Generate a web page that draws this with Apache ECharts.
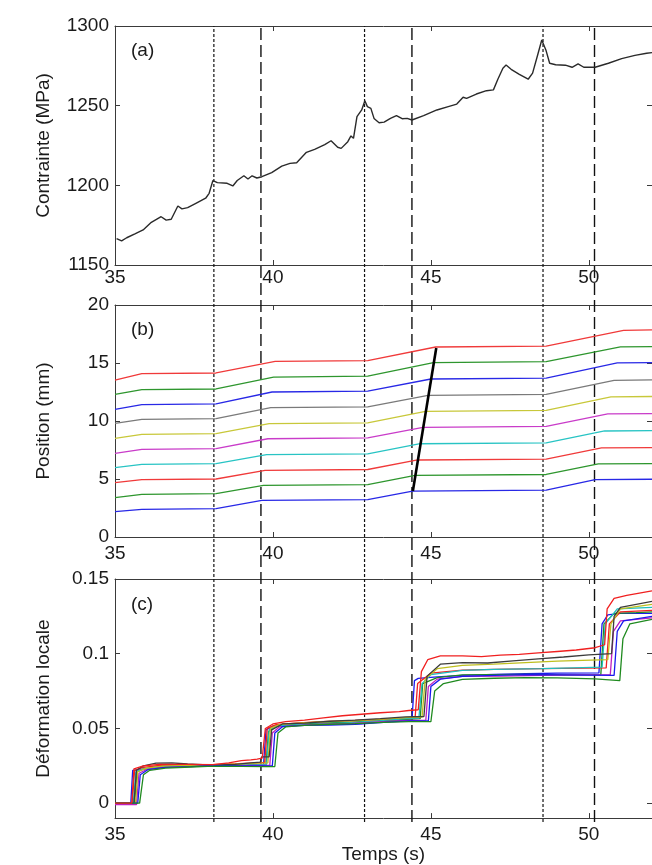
<!DOCTYPE html>
<html><head><meta charset="utf-8">
<script src="https://cdn.jsdelivr.net/npm/echarts@6/dist/echarts.min.js"></script>
<style>html,body{margin:0;padding:0;background:#fff}#c{width:652px;height:865px}</style>
</head><body><div id="c"></div>
<script>
// ---------- data ----------
const xMin = 35, xMax = 52, xInterval = 5;
const panelLabels = ['(a)', '(b)', '(c)'];
const yNames = ['Contrainte (MPa)', 'Position (mm)', 'Déformation locale'];
const xName = 'Temps (s)';
const dottedTimes = [38.13, 42.9, 48.55];
const dashedTimes = [39.62, 44.4, 50.18];

// (a) stress
const stress = [[35.05,1166.5],[35.21,1165.1],[35.37,1167.1],[35.63,1169.5],[35.89,1172],[36.15,1176.8],[36.46,1180.3],[36.62,1178.2],[36.78,1178.7],[36.99,1187],[37.12,1185.2],[37.3,1186],[37.56,1188.7],[37.87,1191.9],[37.98,1195],[38.1,1203],[38.24,1201.7],[38.55,1201.3],[38.73,1199.6],[38.87,1203],[39.08,1206],[39.21,1204],[39.34,1206],[39.49,1204.6],[39.65,1205.4],[39.96,1208],[40.28,1212],[40.54,1213.8],[40.75,1214.2],[41.06,1220.7],[41.32,1222.6],[41.64,1225.5],[41.84,1228],[42.05,1223.9],[42.16,1223.2],[42.37,1227.4],[42.47,1231],[42.55,1229.5],[42.66,1243.1],[42.81,1247.3],[42.91,1253.1],[42.99,1249.4],[43.1,1248.3],[43.2,1242],[43.36,1239.3],[43.52,1239.7],[43.72,1242],[43.91,1243.7],[44.09,1241.8],[44.25,1242],[44.4,1241],[44.77,1243.7],[45.19,1247.3],[45.55,1249.4],[45.82,1251],[46.02,1255.3],[46.13,1254.6],[46.44,1257.3],[46.76,1259.4],[46.98,1259.9],[47.12,1266.6],[47.28,1273.5],[47.38,1275.5],[47.54,1272.8],[47.8,1269.7],[48.08,1266.6],[48.22,1270.4],[48.38,1281.8],[48.51,1291.2],[48.64,1285],[48.76,1276.6],[48.95,1275.7],[49.26,1275.4],[49.47,1274.1],[49.66,1276.2],[49.84,1274.1],[50.2,1274.1],[50.62,1276.6],[51.04,1279.5],[51.46,1281.6],[51.83,1282.9],[52,1283.3]];

// (b) positions, bottom to top
const posStart = [2.18, 3.39, 4.68, 5.98, 7.2, 8.5, 9.8, 11.0, 12.3, 13.53];
const posPlateau1 = [2.41, 3.71, 4.97, 6.29, 7.59, 8.88, 10.17, 11.44, 12.73, 14.11];
const posPlateau2 = [3.19, 4.48, 5.78, 7.13, 8.5, 9.8, 11.18, 12.53, 13.82, 15.17];
const posPlateau3 = [3.99, 5.34, 6.67, 8.07, 9.48, 10.86, 12.24, 13.65, 15.06, 16.41];
const posPlateau4 = [4.97, 6.32, 7.7, 9.16, 10.63, 12.1, 13.53, 15.03, 16.41, 17.84];
const ramp1End = 35.85;
const ramp2Start = 38.2, ramp3Start = 43.0, ramp4Start = 48.65;
const ramp2End = [39.65, 39.7, 39.75, 39.8, 39.84, 39.88, 39.93, 39.97, 40.02, 40.07];
const ramp3End = [44.42, 44.5, 44.58, 44.66, 44.75, 44.83, 44.91, 45.0, 45.08, 45.15];
const ramp4End = [50.2, 50.3, 50.4, 50.5, 50.6, 50.7, 50.8, 50.9, 51.0, 51.1];
const bandFront = [[44.43, 3.97], [45.17, 16.3]];

// (c) local strain
const strain = [
 [[35,0],[35.5,0],[35.56,0.022],[35.8,0.0225],[36.2,0.0238],[36.8,0.0244],[37.5,0.0248],[38.1,0.0254],[38.8,0.025],[39.3,0.0252],[39.7,0.0252],[39.78,0.049],[40.0,0.0515],[40.5,0.0522],[41.2,0.0525],[42.0,0.053],[42.8,0.0532],[43.5,0.0545],[44.3,0.0555],[44.4,0.0555],[44.48,0.082],[44.6,0.0835],[45.2,0.0845],[46,0.0855],[47,0.0862],[48,0.0866],[49,0.087],[50.32,0.0872],[50.42,0.12],[50.6,0.126],[51,0.127],[52,0.127]],
 [[35,0],[35.62,0],[35.7,0.021],[35.9,0.0228],[36.3,0.0242],[37,0.0246],[37.8,0.025],[38.5,0.0254],[39.2,0.0256],[39.78,0.0258],[39.86,0.048],[40.1,0.0515],[40.6,0.0525],[41.5,0.0535],[42.3,0.054],[43.2,0.055],[44.0,0.0558],[44.66,0.0565],[44.74,0.08],[45.2,0.084],[46,0.0858],[47,0.086],[48,0.0862],[49.2,0.0858],[50.38,0.086],[50.48,0.12],[50.8,0.127],[51.5,0.1275],[52,0.128]],
 [[35,0],[35.55,0],[35.62,0.022],[35.9,0.024],[36.4,0.0252],[37.2,0.0255],[38.1,0.0257],[38.9,0.0264],[39.5,0.027],[39.74,0.0272],[39.82,0.05],[40.1,0.0525],[40.7,0.0535],[41.5,0.0545],[42.3,0.055],[43.2,0.0558],[44.0,0.0565],[44.5,0.057],[44.58,0.08],[45,0.087],[46,0.089],[47,0.0895],[48.5,0.09],[50.55,0.0905],[50.65,0.12],[51,0.128],[52,0.129]],
 [[35,0],[35.58,0],[35.66,0.021],[35.9,0.023],[36.4,0.0245],[37.2,0.025],[38.1,0.0254],[38.9,0.0256],[39.5,0.0258],[39.8,0.026],[39.88,0.049],[40.2,0.0518],[40.8,0.0525],[41.6,0.053],[42.5,0.0538],[43.4,0.0552],[44.2,0.0565],[44.62,0.057],[44.72,0.08],[45,0.086],[46,0.0888],[47,0.0895],[48.5,0.09],[49.5,0.0905],[50.42,0.091],[50.52,0.12],[50.9,0.13],[52,0.131]],
 [[35,-0.001],[35.68,-0.001],[35.76,0.02],[36,0.0225],[36.5,0.024],[37.3,0.0246],[38.1,0.0252],[39,0.0252],[39.9,0.0254],[39.98,0.047],[40.2,0.051],[40.8,0.052],[41.6,0.0528],[42.5,0.0533],[43.5,0.0545],[44.3,0.0553],[44.84,0.0556],[44.92,0.078],[45.2,0.083],[46,0.0848],[47.2,0.085],[48.5,0.0855],[49.6,0.0858],[50.68,0.086],[50.78,0.115],[51,0.122],[52,0.124]],
 [[35,0],[35.65,0],[35.72,0.021],[36,0.0235],[36.5,0.0248],[37.3,0.0252],[38.1,0.0256],[38.9,0.0262],[39.5,0.0268],[39.84,0.027],[39.92,0.05],[40.2,0.0525],[40.8,0.0535],[41.6,0.0545],[42.5,0.055],[43.4,0.056],[44.2,0.0572],[44.72,0.0576],[44.82,0.083],[45.2,0.09],[46,0.0922],[47,0.093],[48,0.094],[49,0.095],[50.6,0.096],[50.7,0.12],[51,0.13],[52,0.133]],
 [[35,0],[35.6,0],[35.68,0.022],[35.9,0.025],[36.3,0.0268],[36.8,0.027],[37.3,0.0262],[38.1,0.0255],[38.8,0.026],[39.3,0.027],[39.6,0.0275],[39.64,0.031],[39.88,0.031],[39.96,0.049],[40.3,0.053],[41,0.0535],[41.8,0.0548],[42.6,0.0555],[43.4,0.0565],[44.2,0.0578],[44.78,0.058],[44.88,0.085],[45.3,0.093],[46,0.094],[46.8,0.0938],[47.6,0.0952],[48.4,0.0965],[49.2,0.0978],[50.0,0.0992],[50.72,0.1],[50.8,0.125],[51,0.131],[52,0.135]],
 [[35,0],[35.72,0],[35.8,0.019],[36.05,0.0225],[36.6,0.024],[37.4,0.0245],[38.1,0.0252],[39,0.025],[39.98,0.025],[40.06,0.047],[40.3,0.0512],[41,0.052],[41.8,0.0522],[42.6,0.0528],[43.5,0.054],[44.3,0.055],[44.92,0.055],[45.0,0.078],[45.3,0.083],[46,0.0848],[47,0.0855],[48,0.086],[49,0.0858],[50.8,0.0855],[50.9,0.115],[51.1,0.122],[52,0.125]],
 [[35,0],[35.78,0],[35.9,0.019],[36.1,0.022],[36.6,0.0235],[37.4,0.0242],[38.1,0.0248],[39,0.0246],[39.8,0.0245],[40.06,0.0245],[40.16,0.047],[40.4,0.051],[41,0.052],[41.8,0.0528],[42.6,0.0532],[43.5,0.054],[44.3,0.0545],[45,0.0545],[45.12,0.075],[45.4,0.08],[46,0.0828],[47,0.0836],[48,0.084],[49,0.0838],[50.2,0.0832],[50.98,0.082],[51.08,0.11],[51.3,0.12],[52,0.123]],
 [[35,0],[35.53,0],[35.6,0.023],[35.9,0.025],[36.4,0.026],[37.2,0.026],[38.1,0.0258],[38.6,0.027],[39.0,0.0285],[39.3,0.029],[39.5,0.0295],[39.66,0.0302],[39.76,0.05],[40.0,0.053],[40.4,0.0545],[41,0.0555],[41.6,0.057],[42.2,0.0585],[42.8,0.0595],[43.4,0.0605],[44,0.0612],[44.3,0.062],[44.6,0.0625],[44.7,0.088],[44.9,0.096],[45.3,0.0985],[46,0.0985],[46.6,0.098],[47.2,0.099],[47.8,0.0995],[48.4,0.1005],[49,0.1015],[49.6,0.1025],[50.2,0.104],[50.5,0.106],[50.58,0.13],[50.8,0.137],[51.2,0.139],[51.6,0.1405],[52,0.142]]
];
const strainTicks = [0, 0.05, 0.1, 0.15];

// ---------- styles ----------
const colorsB = ['#2828e6', '#2e962e', '#f03a3a', '#28c4c4', '#c93cc9', '#c8c83a', '#7a7a7a', '#2828e6', '#2e962e', '#f03a3a'];
const colorsC = ['#1a1aee', '#1f8a1f', '#f02020', '#1fbfbf', '#c020c0', '#bfbf1f', '#3c3c3c', '#1a1aee', '#1f8a1f', '#f02020'];
const FONT = 'Liberation Sans, Arial, Helvetica, sans-serif';
const AX = '#3a3a3a';
const TXT = '#1a1a1a';
const plain = v => String(v);
const grids = [
  {left: 115, right: -5, top: 26, height: 239},
  {left: 115, right: -5, top: 305, height: 232},
  {left: 115, right: -5, top: 579, height: 243},
  {left: 115, right: -5, top: 26, bottom: 43}
];

function xAxes(gi, labelMargin, withName) {
  const common = {gridIndex: gi, type: 'value', min: xMin, max: xMax, interval: xInterval,
    axisLine: {show: true, onZero: false, lineStyle: {color: AX, width: 1}},
    axisTick: {show: true, inside: true, length: 5, lineStyle: {color: AX}},
    splitLine: {show: false}};
  return [
    Object.assign({}, common, {position: 'bottom',
      axisLabel: {show: true, margin: labelMargin, fontSize: 19, color: TXT, fontFamily: FONT, showMaxLabel: false, formatter: plain},
      name: withName ? xName : '', nameLocation: 'middle', nameGap: 26,
      nameTextStyle: {fontSize: 19, color: TXT, fontFamily: FONT}}),
    Object.assign({}, common, {position: 'top', axisLabel: {show: false}})
  ];
}
function yAxes(gi, cfg) {
  const common = Object.assign({gridIndex: gi, type: 'value',
    axisLine: {show: true, lineStyle: {color: AX, width: 1}},
    splitLine: {show: false}}, cfg.range);
  const tick = {show: true, inside: true, length: 5, lineStyle: {color: AX}};
  if (cfg.custom) tick.customValues = cfg.custom;
  const lab = {show: true, margin: 6, fontSize: 19, color: TXT, fontFamily: FONT, formatter: plain};
  if (cfg.custom) lab.customValues = cfg.custom;
  return [
    Object.assign({}, common, {position: 'left', axisTick: tick, axisLabel: lab,
      name: cfg.name, nameLocation: 'middle', nameGap: 62,
      nameTextStyle: {fontSize: 19, color: TXT, fontFamily: FONT}}),
    Object.assign({}, common, {position: 'right', axisTick: tick, axisLabel: {show: false}})
  ];
}

const xAxis = [].concat(xAxes(0, 3, false), xAxes(1, 7, false), xAxes(2, 7, true),
  [{gridIndex: 3, type: 'value', min: xMin, max: xMax, show: false}]);
const yAxis = [].concat(
  yAxes(0, {range: {min: 1150, max: 1300, interval: 50}, name: yNames[0]}),
  yAxes(1, {range: {min: 0, max: 20, interval: 5}, name: yNames[1]}),
  yAxes(2, {range: {min: -0.01, max: 0.15}, custom: strainTicks, name: yNames[2]}),
  [{gridIndex: 3, type: 'value', min: 0, max: 1, show: false}]);

const series = [];
// vertical event lines across all panels
dottedTimes.forEach(t => series.push({type: 'line', xAxisIndex: 6, yAxisIndex: 6, data: [[t, 0], [t, 1]],
  symbol: 'none', silent: true, z: 1, lineStyle: {color: '#111', width: 1.2, type: [3, 2]}}));
dashedTimes.forEach(t => series.push({type: 'line', xAxisIndex: 6, yAxisIndex: 6, data: [[t, 0], [t, 1]],
  symbol: 'none', silent: true, z: 1, lineStyle: {color: '#111', width: 1.4, type: [12, 5]}}));
// (a)
series.push({type: 'line', xAxisIndex: 0, yAxisIndex: 0, data: stress, symbol: 'none', z: 3,
  lineStyle: {color: '#2a2a2a', width: 1.4}});
// (b)
for (let i = 0; i < posStart.length; i++) {
  const d = [[xMin, posStart[i]], [ramp1End, posPlateau1[i] - 0.03], [ramp2Start, posPlateau1[i] + 0.03],
    [ramp2End[i], posPlateau2[i] - 0.03], [ramp3Start, posPlateau2[i] + 0.04],
    [ramp3End[i], posPlateau3[i] - 0.03], [ramp4Start, posPlateau3[i] + 0.05],
    [ramp4End[i], posPlateau4[i] - 0.02], [xMax, posPlateau4[i] + 0.01]];
  series.push({type: 'line', xAxisIndex: 2, yAxisIndex: 2, data: d, symbol: 'none', z: 3,
    lineStyle: {color: colorsB[i], width: 1.3}});
}
series.push({type: 'line', xAxisIndex: 2, yAxisIndex: 2, data: bandFront, symbol: 'none', z: 4,
  lineStyle: {color: '#000', width: 2.6}});
// (c)
strain.forEach((d, i) => series.push({type: 'line', xAxisIndex: 4, yAxisIndex: 4, data: d, symbol: 'none', z: 3,
  lineStyle: {color: colorsC[i], width: 1.3}}));

const titleTops = [36, 315, 590];
const option = {
  animation: false,
  backgroundColor: '#ffffff',
  textStyle: {fontFamily: FONT},
  title: panelLabels.map((t, i) => ({text: t, left: 126, top: titleTops[i],
    textStyle: {fontSize: 19, fontWeight: 'normal', color: TXT, fontFamily: FONT}})),
  grid: grids,
  xAxis: xAxis,
  yAxis: yAxis,
  series: series
};
echarts.init(document.getElementById('c'), null, {renderer: 'canvas'}).setOption(option);
</script></body></html>
